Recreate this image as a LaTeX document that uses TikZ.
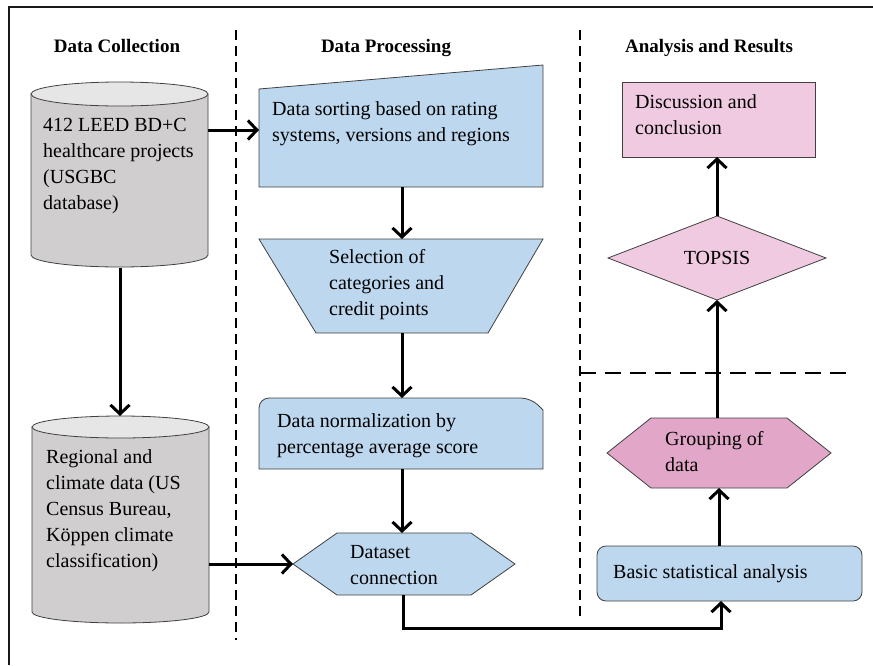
\documentclass[tikz,border=0pt]{standalone}
\usepackage{fontspec}
\setmainfont{Liberation Serif}
\usepackage{tikz}
\usetikzlibrary{arrows.meta}

\definecolor{procblue}{HTML}{BDD7EE}
\definecolor{respink}{HTML}{F0CAE0}
\definecolor{grppink}{HTML}{E2A7C8}
\definecolor{cylgray}{HTML}{D0CECE}
\definecolor{cyllid}{HTML}{E6E6E6}
\definecolor{edge}{HTML}{404040}

\tikzset{
    box/.style={draw=edge, line width=0.8pt},
    txt/.style={anchor=north west, inner sep=0pt, align=left, font=\fontsize{20}{26}\selectfont},
    heading/.style={anchor=base, inner sep=0pt, font=\fontsize{19}{22}\selectfont\bfseries},
    flow/.style={line width=3pt, -{Straight Barb[length=9pt,width=19pt]}},
    divider/.style={line width=1.8pt, dash pattern=on 10pt off 6pt},
}

\begin{document}
\begin{tikzpicture}[x=1pt, y=-1pt]
        \useasboundingbox (0,0) rectangle (873,665);
        \draw[line width=2.2pt, black!90] (9,665) -- (9,7) -- (873,7);

        % column dividers
        \draw[divider] (236,30) -- (236,640);
        \draw[divider] (580,30) -- (580,622);
        \draw[divider, dash pattern=on 16pt off 9pt] (580,373) -- (852,373);

        \node[heading] (collect) at (117,52) {Data Collection};
        \node[heading] (process) at (386,52) {Data Processing};
        \node[heading] (results) at (709,52) {Analysis and Results};

        % data collection
        \filldraw[box, fill=cylgray] (31,94) -- (31,255) arc[start angle=180, end angle=0, x radius=88.5, y radius=12] -- (208,94) -- cycle;
        \filldraw[box, fill=cyllid] (119.5,94) ellipse[x radius=88.5, y radius=12];
        \node[txt] (leed) at (43,118) {412 LEED BD+C\\healthcare projects\\(USGBC\\database)};

        \filldraw[box, fill=cylgray] (32,427) -- (32,612) arc[start angle=180, end angle=0, x radius=88.5, y radius=11] -- (209,427) -- cycle;
        \filldraw[box, fill=cyllid] (120.5,427) ellipse[x radius=88.5, y radius=11];
        \node[txt] (regional) at (46,449) {Regional and\\climate data (US\\Census Bureau,\\Köppen climate\\classification)};

        % data processing
        \filldraw[box, fill=procblue] (259,89) -- (543,65) -- (543,187) -- (259,187) -- cycle;
        \node[txt] (sorting) at (272,101) {Data sorting based on rating\\systems, versions and regions};

        \filldraw[box, fill=procblue] (259,239) -- (543,239) -- (488,333) -- (316,333) -- cycle;
        \node[txt] (select) at (329,249) {Selection of\\categories and\\credit points};

        \filldraw[box, fill=procblue] (259,469) {[rounded corners=10pt] -- (259,398) -- (531,398)} -- (543,410) -- (543,469) -- cycle;
        \node[txt] (normal) at (277,413) {Data normalization by\\percentage average score};

        \filldraw[box, fill=procblue] (293,564) -- (337,533) -- (471,533) -- (515,564) -- (471,595) -- (337,595) -- cycle;
        \node[txt] (connect) at (350,545) {Dataset\\connection};

        % analysis and results
        \filldraw[box, fill=procblue, rounded corners=9pt] (597,546) rectangle (862,601);
        \node[txt] (basic) at (613,564) {Basic statistical analysis};

        \filldraw[box, fill=grppink] (607,453) -- (651,418) -- (787,418) -- (831,453) -- (787,488) -- (651,488) -- cycle;
        \node[txt] (group) at (665,431) {Grouping of\\data};

        \filldraw[box, fill=respink] (608,258) -- (717,216) -- (826,258) -- (717,300) -- cycle;
        \node[anchor=base, inner sep=0pt, font=\fontsize{20}{26}\selectfont] (topsis) at (717,264) {TOPSIS};

        \filldraw[box, fill=respink] (622,82) rectangle (815,157);
        \node[txt] (discuss) at (635,94) {Discussion and\\conclusion};

        % connector ends
        \coordinate (leed-e) at (208,130);
        \coordinate (leed-s) at (120,268);
        \coordinate (regional-n) at (120,416);
        \coordinate (regional-e) at (209,564);
        \coordinate (sorting-w) at (259,130);
        \coordinate (sorting-s) at (402,187);
        \coordinate (select-n) at (402,239);
        \coordinate (select-s) at (402,333);
        \coordinate (normal-n) at (402,398);
        \coordinate (normal-s) at (402,469);
        \coordinate (connect-n) at (402,533);
        \coordinate (connect-w) at (293,564);
        \coordinate (connect-s) at (403,595);
        \coordinate (basic-s) at (721,601);
        \coordinate (basic-n) at (719,546);
        \coordinate (group-s) at (719,488);
        \coordinate (group-n) at (717,418);
        \coordinate (topsis-s) at (717,300);
        \coordinate (topsis-n) at (717,216);
        \coordinate (discuss-s) at (717,157);

        \draw[flow] (leed-e) -- (sorting-w);
        \draw[flow] (leed-s) -- (regional-n);
        \draw[flow] (regional-e) -- (connect-w);
        \draw[flow] (sorting-s) -- (select-n);
        \draw[flow] (select-s) -- (normal-n);
        \draw[flow] (normal-s) -- (connect-n);
        \draw[flow] (connect-s) -- ++(0,33) -| (basic-s);
        \draw[flow] (basic-n) -- (group-s);
        \draw[flow] (group-n) -- (topsis-s);
        \draw[flow] (topsis-n) -- (discuss-s);
    \end{tikzpicture}
\end{document}
